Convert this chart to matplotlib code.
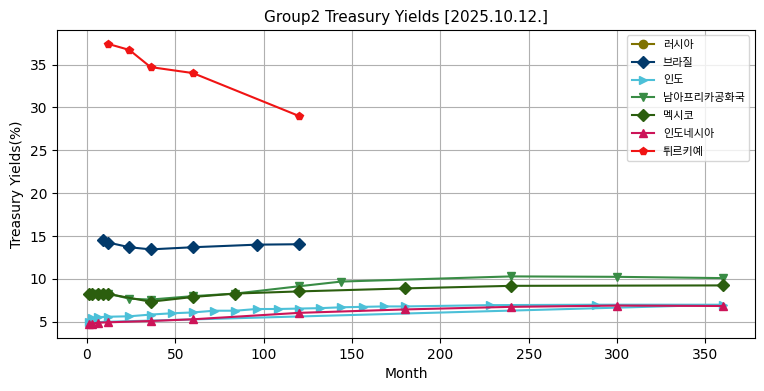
import matplotlib.pyplot as plt

# months to maturity / yields (%)
russia_m = []
russia_y = []

brazil_m = [9, 12, 24, 36, 60, 96, 120]
brazil_y = [14.5, 14.25, 13.7, 13.45, 13.7, 14.0, 14.05]

india_m = [3, 6, 12, 24, 36, 48, 60, 72, 84, 96, 108, 120, 132, 144, 156, 168, 180, 228, 288, 360, 1]
india_y = [5.45, 5.55, 5.6, 5.65, 5.85, 6.0, 6.1, 6.3, 6.3, 6.5, 6.5, 6.55, 6.6, 6.7, 6.75, 6.8, 6.8, 6.95, 7.0, 7.0, 4.95]

safrica_m = [3, 6, 12, 24, 36, 60, 84, 120, 144, 240, 300, 360]
safrica_y = [8.2, 8.2, 8.3, 7.7, 7.6, 8.0, 8.3, 9.15, 9.7, 10.3, 10.25, 10.1]

mexico_m = [1, 3, 6, 9, 12, 36, 60, 84, 120, 180, 240, 360]
mexico_y = [8.2, 8.25, 8.2, 8.25, 8.25, 7.35, 7.9, 8.3, 8.55, 8.9, 9.2, 9.25]

indonesia_m = [1, 3, 6, 12, 36, 60, 120, 180, 240, 300, 360]
indonesia_y = [4.75, 4.8, 4.9, 4.95, 5.1, 5.3, 6.05, 6.45, 6.75, 6.9, 6.85]

turkey_m = [12, 24, 36, 60, 120]
turkey_y = [37.4, 36.7, 34.7, 34.0, 29.0]

fig = plt.figure(figsize=(7.64, 3.91), dpi=100)
ax = fig.add_axes([0.0746, 0.1355, 0.9134, 0.788])

ax.plot(russia_m, russia_y, color="#7f7200", marker="o", label="러시아")
ax.plot(brazil_m, brazil_y, color="#023a6b", marker="D", label="브라질")
ax.plot(india_m, india_y, color="#4cc0d8", marker=">", label="인도")
ax.plot(safrica_m, safrica_y, color="#398c45", marker="v", label="남아프리카공화국")
ax.plot(mexico_m, mexico_y, color="#2b5e0e", marker="D", label="멕시코")
ax.plot(indonesia_m, indonesia_y, color="#cc1458", marker="^", label="인도네시아")
ax.plot(turkey_m, turkey_y, color="#f01414", marker="p", label="튀르키예")

ax.set_title("Group2 Treasury Yields [2025.10.12.]", fontsize=11)
ax.set_xlabel("Month")
ax.set_ylabel("Treasury Yields(%)")
ax.grid(True)
ax.legend(loc="upper right", labelspacing=0.7,
          prop={"family": ["Noto Sans CJK KR", "DejaVu Sans"], "size": 8})

plt.savefig("out.png")
